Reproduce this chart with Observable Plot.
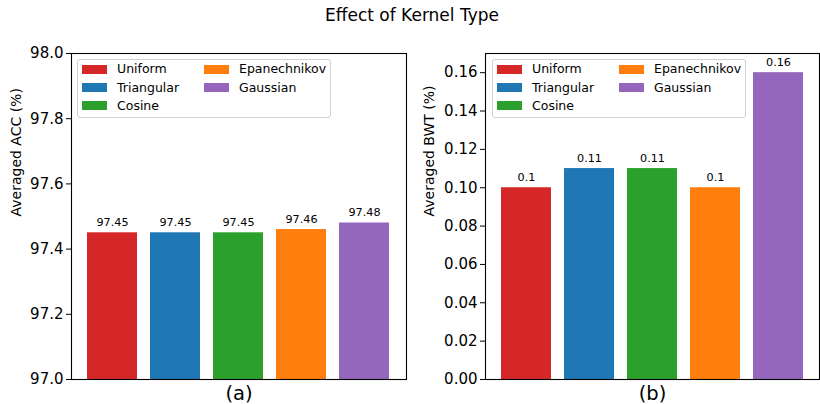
<!DOCTYPE html>
<html>
<head>
<meta charset="utf-8">
<script src="https://cdn.jsdelivr.net/npm/d3@7"></script>
<script src="https://cdn.jsdelivr.net/npm/@observablehq/plot@0.6"></script>
<style>
  html, body { margin: 0; padding: 0; background: #fff; }
  body { font-family: "DejaVu Sans", sans-serif; }
  #fig { position: relative; width: 820px; height: 404px; overflow: hidden; }
  #title { position: absolute; left: 0; width: 824px; top: 5px; text-align: center; font-size: 17px; line-height: 20px; color: #000; }
  .panel { position: absolute; top: 0; }
  .legend { position: absolute; border: 1px solid #d0d0d0; border-radius: 3px; background: rgba(255,255,255,0.8); box-sizing: border-box; }
  .legend .item { position: absolute; font-size: 12.5px; line-height: 14px; color: #000; white-space: nowrap; }
  .legend .sw { position: absolute; width: 25px; height: 9px; }
</style>
</head>
<body>
<div id="fig">
  <div id="title">Effect of Kernel Type</div>
</div>
<script>
// ---- data ----
const kernels = ["Uniform", "Triangular", "Cosine", "Epanechnikov", "Gaussian"];
const colors = ["#d62728", "#1f77b4", "#2ca02c", "#ff7f0e", "#9467bd"];
const accValues = [97.45, 97.45, 97.45, 97.46, 97.48];
const bwtValues = [0.1, 0.11, 0.11, 0.1, 0.16];
const accTicks = [97.0, 97.2, 97.4, 97.6, 97.8, 98.0];
const bwtTicks = [0.00, 0.02, 0.04, 0.06, 0.08, 0.10, 0.12, 0.14, 0.16];
const panelLabels = ["(a)", "(b)"];
const yLabels = ["Averaged ACC (%)", "Averaged BWT (%)"];

const fig = document.getElementById("fig");

function makePanel({values, ticks, domain, fmt, yLabel, panelLabel, left, marginLeft, marginRight, labelDx}) {
  const data = kernels.map((k, i) => ({k, v: values[i], c: colors[i], lab: String(values[i])}));
  const plot = Plot.plot({
    width: 410,
    height: 404,
    marginTop: 53,
    marginBottom: 25,
    marginLeft,
    marginRight,
    style: {fontFamily: "DejaVu Sans", overflow: "visible", background: "transparent", color: "#000"},
    x: {domain: kernels, paddingInner: 0.2, paddingOuter: 0.24, axis: null},
    y: {domain, axis: null},
    color: {domain: kernels, range: colors},
    marks: [
      Plot.barY(data, {x: "k", y1: domain[0], y2: "v", fill: "c"}),
      Plot.text(data, {x: "k", y: "v", text: "lab", lineAnchor: "bottom", dy: -7, fontSize: 11.2, fill: "#000"}),
      Plot.axisY({ticks, tickFormat: d3.format(fmt), tickSize: 5, tickPadding: 3, fontSize: 15, label: null, stroke: "#000"}),
      Plot.text([yLabel], {frameAnchor: "left", rotate: -90, dx: -labelDx, fontSize: 14, fill: "#000", text: d => d}),
      Plot.text([panelLabel], {frameAnchor: "bottom", dy: 14.5, lineAnchor: "middle", fontSize: 19.5, fill: "#000", text: d => d}),
      Plot.frame({stroke: "#000", strokeWidth: 1.1})
    ]
  });
  plot.classList.add("panel");
  plot.style.left = left + "px";
  fig.appendChild(plot);
}

makePanel({values: accValues, ticks: accTicks, domain: [97.0, 98.0], fmt: ".1f",
  yLabel: yLabels[0], panelLabel: panelLabels[0], left: 0, marginLeft: 71, marginRight: 4, labelDx: 55});
makePanel({values: bwtValues, ticks: bwtTicks, domain: [0, 0.17], fmt: ".2f",
  yLabel: yLabels[1], panelLabel: panelLabels[1], left: 410, marginLeft: 75, marginRight: 1, labelDx: 56});

function makeLegend(left, top) {
  const lg = document.createElement("div");
  lg.className = "legend";
  lg.style.left = left + "px";
  lg.style.top = top + "px";
  lg.style.width = "254px";
  lg.style.height = "59px";
  kernels.forEach((k, i) => {
    const col = i < 3 ? 0 : 1;
    const row = i < 3 ? i : i - 3;
    const cy = 10.3 + row * 18.2;
    const sw = document.createElement("div");
    sw.className = "sw";
    sw.style.background = colors[i];
    sw.style.left = (col === 0 ? 4 : 125.7) + "px";
    sw.style.top = (cy - 4.5 - 1) + "px";
    lg.appendChild(sw);
    const t = document.createElement("div");
    t.className = "item";
    t.textContent = k;
    t.style.left = (col === 0 ? 39 : 161) + "px";
    t.style.top = (cy - 7 - 1) + "px";
    lg.appendChild(t);
  });
  fig.appendChild(lg);
}
makeLegend(77, 59);
makeLegend(492, 59);
</script>
</body>
</html>
